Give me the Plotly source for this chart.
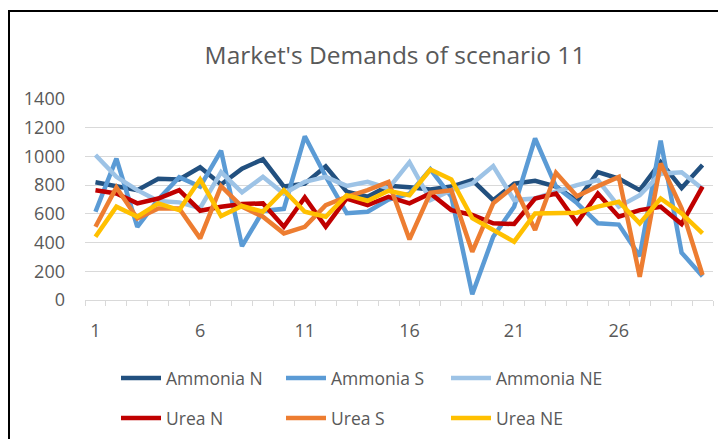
import plotly.graph_objects as go

# Periods 1..30
periods = list(range(1, 31))

ammonia_n = [820, 795, 765, 845, 840, 925, 805, 915, 980, 790, 810, 930, 755, 720, 795, 785,
             770, 790, 835, 695, 810, 830, 790, 690, 890, 845, 765, 960, 780, 940]
ammonia_s = [615, 985, 510, 700, 855, 790, 1040, 375, 620, 635, 1140, 860, 605, 615, 700, 740,
             910, 720, 40, 440, 650, 1125, 790, 675, 535, 525, 305, 1110, 330, 165]
ammonia_ne = [1010, 858, 765, 690, 680, 640, 890, 750, 858, 740, 823, 858, 795, 823, 778, 960,
              696, 765, 812, 933, 696, 707, 755, 800, 835, 650, 730, 880, 890, 775]
urea_n = [765, 742, 673, 707, 765, 622, 650, 668, 673, 510, 714, 510, 707, 661, 719, 673,
          742, 626, 592, 534, 529, 707, 742, 538, 742, 580, 626, 650, 529, 789]
urea_s = [510, 784, 568, 638, 638, 429, 793, 650, 580, 464, 510, 661, 719, 765, 823, 422,
          747, 765, 336, 673, 793, 487, 886, 723, 793, 858, 162, 951, 638, 174]
urea_ne = [441, 650, 580, 673, 626, 840, 585, 655, 615, 765, 615, 580, 730, 691, 761, 730,
           909, 840, 570, 487, 406, 603, 603, 608, 650, 684, 534, 707, 603, 464]

x_tick_labels = ["1", "6", "11", "16", "21", "26"]
y_tick_values = [0, 200, 400, 600, 800, 1000, 1200, 1400]

series = [
    ("Ammonia N", ammonia_n, "#22507F", "legend"),
    ("Ammonia S", ammonia_s, "#5B9BD5", "legend"),
    ("Ammonia NE", ammonia_ne, "#9DC3E6", "legend"),
    ("Urea N", urea_n, "#C00000", "legend2"),
    ("Urea S", urea_s, "#ED7D31", "legend2"),
    ("Urea NE", urea_ne, "#FFC000", "legend2"),
]

FONT = "Open Sans"
GREY = "#595959"

fig = go.Figure()
for name, vals, color, leg in series:
    fig.add_trace(go.Scatter(
        x=periods, y=vals, name=name, mode="lines",
        line=dict(color=color, width=4.5),
        legend=leg,
    ))

W, H = 718, 439
ML, MR, MT, MB = 85, 5, 99, 139
pw, ph = W - ML - MR, H - MT - MB


def px_x(p):
    return (p - ML) / pw


def px_y(p):
    return 1 - (p - MT) / ph


legend_common = dict(
    orientation="h", xanchor="left", yanchor="middle",
    font=dict(family=FONT, size=17.5, color=GREY),
    entrywidth=110, entrywidthmode="pixels",
    itemwidth=40,
    bgcolor="rgba(0,0,0,0)",
    tracegroupgap=0,
)

fig.update_layout(
    width=W, height=H,
    margin=dict(l=ML, r=MR, t=MT, b=MB, autoexpand=False),
    paper_bgcolor="white", plot_bgcolor="white",
    title=dict(
        text="Market's Demands of scenario 11",
        x=px_x(395), xref="paper", xanchor="center",
        y=1 - 55 / H, yref="container", yanchor="middle",
        font=dict(family=FONT, size=24.5, color=GREY),
    ),
    showlegend=True,
    legend=dict(x=px_x(116), y=px_y(378), **legend_common),
    legend2=dict(x=px_x(116), y=px_y(418), **legend_common),
    xaxis=dict(
        range=[0.5, 30.5],
        tickmode="array",
        tickvals=[int(t) for t in x_tick_labels],
        ticktext=x_tick_labels,
        ticks="",
        ticklabelstandoff=14,
        showgrid=False, zeroline=False,
        showline=True, linecolor="#D9D9D9", linewidth=1,
        tickfont=dict(family=FONT, size=18, color=GREY),
        minor=dict(tick0=0.5, dtick=1, ticks="outside", ticklen=5,
                   tickcolor="#D9D9D9", showgrid=False),
    ),
    yaxis=dict(
        range=[0, 1400],
        tickmode="array", tickvals=y_tick_values,
        showgrid=True, gridcolor="#D9D9D9", gridwidth=1,
        zeroline=False, showline=False, ticks="",
        ticklabelstandoff=19,
        tickfont=dict(family=FONT, size=18, color=GREY),
    ),
    shapes=[
        # outer chart frame
        dict(type="rect", xref="paper", yref="paper",
             x0=px_x(9), x1=px_x(740), y0=px_y(470), y1=px_y(11),
             line=dict(color="black", width=2), fillcolor="rgba(0,0,0,0)",
             layer="below"),
    ],
)

fig.write_html("out.html")
